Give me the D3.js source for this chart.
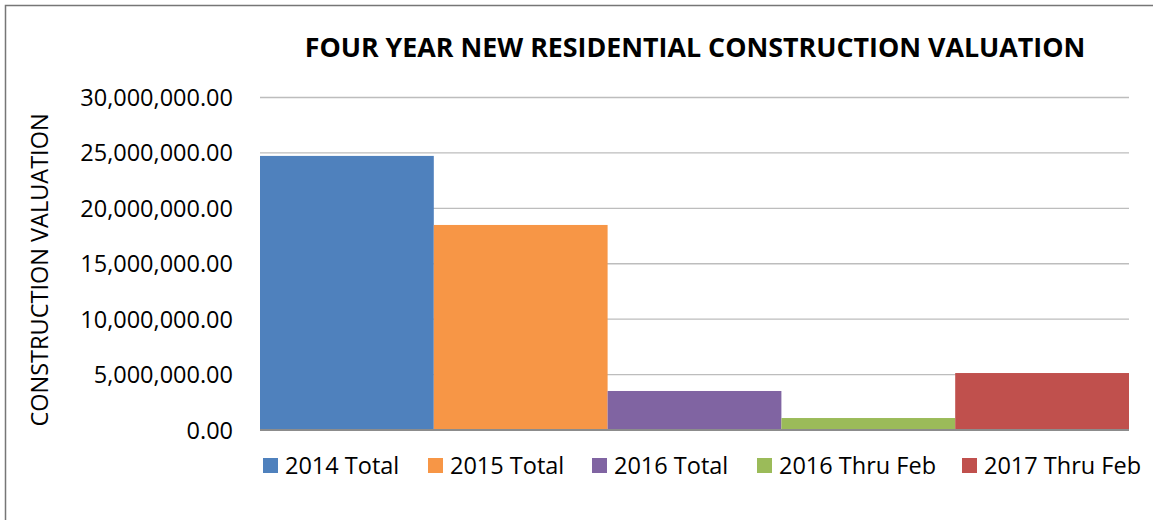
<!DOCTYPE html>
<html>
<head>
<meta charset="utf-8">
<script src="https://cdn.jsdelivr.net/npm/d3@7"></script>
<style>
  body { margin: 0; background: #fff; }
  text { font-family: "Open Sans", sans-serif; fill: #000; }
</style>
</head>
<body>
<div id="chart"></div>
<script>
// values
const categories = ['2014 Total', '2015 Total', '2016 Total', '2016 Thru Feb', '2017 Thru Feb']
const values = [24730000, 18500000, 3520000, 1080000, 5140000]
const colors = ['#4F81BD', '#F79646', '#8064A2', '#9BBB59', '#C0504D']
const yTicks = [0, 5000000, 10000000, 15000000, 20000000, 25000000, 30000000]
const legendX = [263, 428, 592, 757, 962]

const width = 1153
const height = 520
const margin = { top: 97.5, right: 24, bottom: 90, left: 260 }

const svg = d3.select('#chart')
  .append('svg')
  .attr('width', width)
  .attr('height', height)

// outer chart border
svg.append('rect')
  .attr('x', 5.5)
  .attr('y', 5.5)
  .attr('width', width + 10)
  .attr('height', height + 10)
  .attr('fill', 'none')
  .attr('stroke', '#767676')
  .attr('stroke-width', 1.5)

const x = d3.scaleBand()
  .domain(categories)
  .range([margin.left, width - margin.right])
  .padding(0)

const y = d3.scaleLinear()
  .domain([0, 30000000])
  .range([height - margin.bottom, margin.top])

// gridlines
svg.append('g')
  .selectAll('line')
  .data(yTicks.filter(d => d > 0))
  .enter().append('line')
  .attr('x1', margin.left)
  .attr('x2', width - margin.right)
  .attr('y1', d => y(d))
  .attr('y2', d => y(d))
  .attr('stroke', '#BDBDBD')
  .attr('stroke-width', 1.3)

// bars
svg.append('g')
  .selectAll('rect')
  .data(values)
  .enter().append('rect')
  .attr('x', (d, i) => x(categories[i]))
  .attr('y', d => y(d))
  .attr('width', x.bandwidth())
  .attr('height', d => y(0) - y(d))
  .attr('fill', (d, i) => colors[i])

// baseline
svg.append('line')
  .attr('x1', margin.left)
  .attr('x2', width - margin.right)
  .attr('y1', y(0))
  .attr('y2', y(0))
  .attr('stroke', '#8C8C8C')
  .attr('stroke-width', 2)

// y axis labels
const yAxis = d3.axisLeft(y)
  .tickValues(yTicks)
  .tickSize(0)
  .tickPadding(27)
  .tickFormat(d3.format(',.2f'))

const yg = svg.append('g')
  .attr('transform', `translate(${margin.left},0)`)
  .call(yAxis)
yg.select('.domain').remove()
yg.selectAll('text')
  .style('font-family', '"Open Sans", sans-serif')
  .style('font-size', '23.5px')
  .attr('dy', '0.34em')
  .attr('fill', '#000')

// title
svg.append('text')
  .attr('x', 695)
  .attr('y', 57)
  .attr('text-anchor', 'middle')
  .style('font-size', '26.8px')
  .style('font-weight', 'bold')
  .text('FOUR YEAR NEW RESIDENTIAL CONSTRUCTION VALUATION')

// y axis title
svg.append('text')
  .attr('transform', 'translate(48,270) rotate(-90)')
  .attr('text-anchor', 'middle')
  .style('font-size', '23.5px')
  .text('CONSTRUCTION VALUATION')

// legend
const legend = svg.append('g')
  .selectAll('g')
  .data(categories)
  .enter().append('g')
  .attr('transform', (d, i) => `translate(${legendX[i]},458)`)

legend.append('rect')
  .attr('width', 15)
  .attr('height', 15)
  .attr('fill', (d, i) => colors[i])

legend.append('text')
  .attr('x', 22)
  .attr('y', 15.5)
  .style('font-size', '23.5px')
  .text(d => d)
</script>
</body>
</html>
